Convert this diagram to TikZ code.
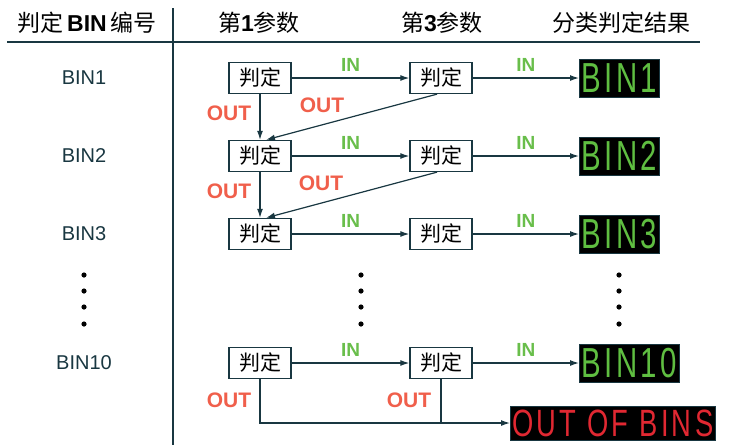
\documentclass[tikz,border=0pt]{standalone}
\usepackage{fontspec}
\setmainfont{Liberation Sans}
\newfontfamily\cjk{Noto Sans CJK SC}
\newfontfamily\dispfont[LetterSpace=12]{Liberation Sans}
\usepackage{xcolor}
\usetikzlibrary{positioning,arrows.meta}
\definecolor{wire}{RGB}{25,55,65}
\definecolor{ingreen}{RGB}{105,190,75}
\definecolor{outred}{RGB}{240,95,75}
\definecolor{bingreen}{RGB}{95,190,65}
\definecolor{oobred}{RGB}{225,40,50}

\begin{document}
\begin{tikzpicture}[
  x=1pt, y=-1pt,
  head/.style={font=\fontsize{23}{23}\selectfont},
  judge/.style={
    draw=wire,
    line width=1.3pt,
    fill=white,
    minimum width=62pt,
    minimum height=31pt,
    inner sep=0pt,
    font=\fontsize{21}{21}\selectfont\cjk
  },
  binlabel/.style={
    fill=black,
    draw=wire,
    anchor=west,
    inner sep=2pt,
    minimum height=38pt,
    text=bingreen,
    font=\fontsize{42}{42}\selectfont\dispfont
  },
  rowlabel/.style={text=wire, font=\fontsize{20}{20}\selectfont},
  inlabel/.style={text=ingreen, font=\fontsize{19}{19}\selectfont\bfseries},
  outlabel/.style={text=outred, font=\fontsize{21}{21}\selectfont\bfseries},
  flow/.style={draw=wire, line width=1.2pt, -{Latex[length=9pt,width=6pt]}},
  wireline/.style={draw=wire, line width=1.2pt}
]
\useasboundingbox (0,0) rectangle (731,445);

% header
\node[head] (hbin) at (87,23) {{\cjk 判定}\,\textbf{BIN}\,{\cjk 编号}};
\node[head] (hpar1) at (259,23) {{\cjk 第}\textbf{1}{\cjk 参数}};
\node[head] (hpar3) at (442,23) {{\cjk 第}\textbf{3}{\cjk 参数}};
\node[head] (hres) at (621,23) {\cjk 分类判定结果};
\draw[wire, line width=1.5pt] (7,42) -- (700,42);
\draw[wire, line width=1.5pt] (173,8) -- (173,445);

% rows
\foreach \r/\y in {1/78, 2/156, 3/234, 10/363} {
  \node[rowlabel] (row\r) at (84,\y) {BIN\r};
  \node[judge] (a\r) at (260,\y) {判定};
  \node[judge] (b\r) at (441,\y) {判定};
  \node[binlabel] (res\r) at (579,\y) {\scalebox{0.7}[1]{BIN\r}};
  \draw[flow] (a\r) -- (b\r) node[inlabel, midway, above=3pt] {IN};
  \draw[flow] (b\r) -- (res\r) node[inlabel, midway, above=3pt] {IN};
}

\node[binlabel, text=oobred, minimum height=34pt,
  font=\fontsize{38}{38}\selectfont\dispfont] (oob) at (510,423)
  {\scalebox{0.72}[1]{OUT OF BINS}};

% OUT paths
\draw[flow] (a1) -- (a2);
\draw[flow] ([xshift=-4pt]b1.south) -- ([xshift=6pt]a2.north);
\draw[flow] (a2) -- (a3);
\draw[flow] ([xshift=-4pt]b2.south) -- ([xshift=6pt]a3.north);
\draw[flow] (a10.south) |- (oob.west);
\draw[wireline] (b10.south) -- (b10.south |- oob.west);

\node[outlabel] (out1a) at (229,113) {OUT};
\node[outlabel] (out1b) at (322,105) {OUT};
\node[outlabel] (out2a) at (229,191) {OUT};
\node[outlabel] (out2b) at (321,183) {OUT};
\node[outlabel] (out10a) at (229,400) {OUT};
\node[outlabel] (out10b) at (409,400) {OUT};

% dots
\foreach \x in {84,361,619}
  \foreach \y in {275,291,307,324}
    \fill (\x,\y) circle (2.6pt);

\end{tikzpicture}
\end{document}
